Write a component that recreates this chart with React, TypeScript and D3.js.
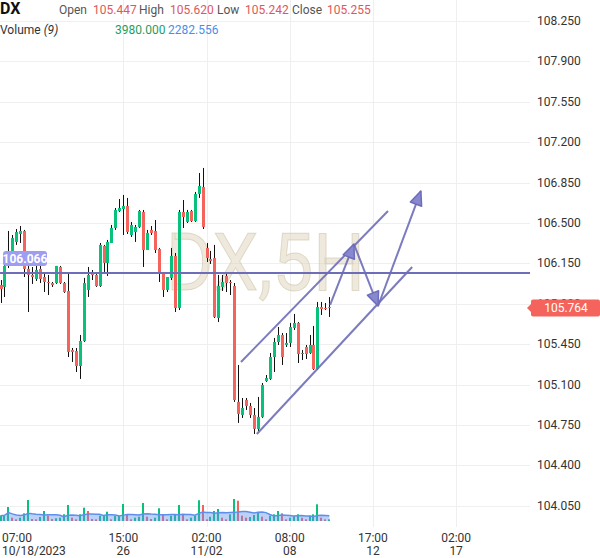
import React from 'react';
import * as d3 from 'd3';

const opens = [105.963,105.946,106.128,106.258,106.336,106.405,106.431,106.102,106.050,106.015,106.102,106.032,105.989,105.980,105.980,106.119,105.980,105.911,105.400,105.391,105.261,105.478,105.920,106.058,106.050,105.954,106.301,106.154,106.327,106.457,106.604,106.621,106.647,106.396,106.422,106.466,106.595,106.266,106.440,106.431,106.275,106.067,105.920,106.024,106.214,105.764,106.595,106.509,106.604,106.517,106.751,106.812,106.284,106.188,106.197,105.677,105.946,106.041,105.989,105.954,104.950,104.837,104.967,104.915,104.837,104.716,104.820,105.131,105.149,105.339,105.469,105.530,105.443,105.461,105.591,105.634,105.365,105.426,105.374,105.443,105.235,105.772,105.764,105.772];
const highs = [106.006,106.180,106.431,106.396,106.448,106.474,106.440,106.128,106.119,106.128,106.128,106.067,106.050,105.989,106.128,106.128,105.989,106.058,105.417,105.417,105.530,106.024,106.119,106.093,106.067,106.327,106.310,106.353,106.483,106.630,106.708,106.743,106.717,106.509,106.483,106.613,106.613,106.440,106.474,106.526,106.284,106.076,106.032,106.284,106.240,106.613,106.699,106.613,106.613,106.769,106.933,106.977,106.327,106.258,106.310,106.050,106.050,106.067,106.006,105.980,105.270,104.984,104.984,104.941,104.897,104.993,105.114,105.183,105.374,105.504,105.599,105.547,105.547,105.634,105.712,105.642,105.400,105.443,105.530,105.608,105.816,105.816,105.807,105.859];
const lows = [105.807,105.859,106.110,106.223,106.310,106.327,106.032,105.729,105.972,105.998,105.980,105.902,105.876,105.946,105.972,105.972,105.894,105.339,105.296,105.209,105.149,105.469,105.859,106.006,105.946,105.946,106.076,106.041,106.327,106.440,106.595,106.396,106.405,106.379,106.336,106.457,106.119,106.266,106.396,106.240,105.989,105.859,105.902,106.006,105.729,105.746,106.457,106.500,106.509,106.509,106.717,106.448,106.162,106.145,105.677,105.642,105.911,105.902,105.876,104.950,104.768,104.811,104.880,104.811,104.672,104.698,104.811,105.123,105.140,105.209,105.443,105.270,105.426,105.426,105.573,105.287,105.313,105.322,105.365,105.227,105.227,105.703,105.746,105.686];
const closes = [105.928,106.128,106.197,106.370,106.422,106.431,106.102,106.050,106.032,106.093,106.015,105.989,105.980,105.963,106.128,105.980,105.902,105.383,105.383,105.261,105.478,105.980,106.050,106.050,105.954,106.310,106.154,106.336,106.457,106.613,106.630,106.647,106.422,106.483,106.466,106.604,106.266,106.414,106.414,106.266,106.067,105.920,106.032,106.214,105.764,106.595,106.552,106.595,106.517,106.751,106.821,106.466,106.197,106.171,105.686,105.954,105.989,105.980,105.980,104.967,104.846,104.897,104.915,104.837,104.716,104.820,105.097,105.157,105.339,105.469,105.530,105.339,105.461,105.599,105.634,105.365,105.374,105.365,105.443,105.235,105.772,105.755,105.755,105.764];
const volumes = [960,1085,2530,600,300,600,1390,3800,360,300,720,1810,960,360,490,600,1210,2900,600,300,1210,2410,1810,360,300,960,1085,1680,300,900,900,3080,1210,300,600,780,3260,780,360,600,2300,1085,300,960,1085,2900,1210,300,600,960,3750,2900,300,780,1810,2170,600,300,1210,3980,3670,960,600,720,1085,1570,780,300,960,1210,1810,1390,300,600,850,1210,600,300,960,1210,3020,600,300,300];

const priceTicks = [108.25,107.9,107.55,107.2,106.85,106.5,106.15,105.8,105.45,105.1,104.75,104.4,104.05];
const timeTickIndex = [0,31,52,73,94,115];
const timeTickTime = ['07:00','15:00','02:00','08:00','17:00','02:00'];
const timeTickDate = ['10/18/2023','26','11/02','08','12','17'];

const headerLabels = ['Open','High','Low','Close'];
const headerValues = ['105.447','105.620','105.242','105.255'];
const volumeValue = '3980.000';
const volumeMA = '2282.556';

const hLinePrice = 106.066;
const lastPrice = 105.764;
const upperChannel = [[60.7,105.296],[97.8,106.604]];
const lowerChannel = [[64.7,104.672],[103.9,106.119]];
const arrowPath = [[83.2,105.79],[89.2,106.318],[95.3,105.781],[106.1,106.777]];

const W = 600, H = 558;
const PLOT_RIGHT = 530;
const UP = '#08c27b', DOWN = '#f4645c', LINE = '#6d6db9';
const FONT = 'Roboto, Arial, sans-serif';

export default function App() {
  const xs = d3.scaleLinear().domain([0, 115]).range([0.5, 0.5 + 3.962 * 115]);
  const ys = d3.scaleLinear().domain([104.05, 108.25]).range([505.8, 21]);
  const vs = d3.scaleLinear().domain([0, 3980]).range([521, 499]);

  const ma = volumes.map((_, i) => d3.mean(volumes.slice(Math.max(0, i - 8), i + 1)) as number);
  const area = d3.area<number>().x((_, i) => xs(i)).y0(521).y1(d => vs(d));
  const maLine = d3.line<number>().x((_, i) => xs(i)).y(d => vs(d));

  const fmt = d3.format('.3f');

  const arrowHead = (p1: number[], p2: number[]) => {
    const x1 = xs(p1[0]), y1 = ys(p1[1]), x2 = xs(p2[0]), y2 = ys(p2[1]);
    const dx = x2 - x1, dy = y2 - y1, len = Math.hypot(dx, dy);
    const ux = dx / len, uy = dy / len, nx = -uy, ny = ux;
    const L = 14, Wd = 6;
    const bx = x2 - ux * L, by = y2 - uy * L;
    return `${x2},${y2} ${bx + nx * Wd},${by + ny * Wd} ${bx - nx * Wd},${by - ny * Wd}`;
  };

  return (
    <svg width={W} height={H} style={{ position: 'absolute', left: 0, top: 0, background: '#fff' }} fontFamily={FONT}>
      {/* grid */}
      {priceTicks.map((p, i) => (
        <line key={'hg' + i} x1={0} x2={PLOT_RIGHT} y1={Math.round(ys(p)) + 0.5} y2={Math.round(ys(p)) + 0.5} stroke="#efefef" />
      ))}
      {timeTickIndex.slice(1).map((t, i) => (
        <line key={'vg' + i} x1={Math.round(xs(t)) + 0.5} x2={Math.round(xs(t)) + 0.5} y1={0} y2={527} stroke="#efefef" />
      ))}

      {/* watermark */}
      <text x={166} y={290} fontSize={80} textLength={199} lengthAdjust="spacingAndGlyphs" fill="rgba(222,212,186,0.5)" stroke="rgba(200,190,160,0.5)" strokeWidth={1}>DX,5H</text>

      {/* volume bars */}
      {volumes.map((v, i) => {
        const up = i === 0 || v >= volumes[i - 1];
        const x = Math.round(xs(i));
        return <rect key={'v' + i} x={x - 1} y={vs(v)} width={2} height={521 - vs(v)} fill={up ? UP : DOWN} />;
      })}
      <path d={area(ma) || ''} fill="rgba(98,146,238,0.42)" />
      <path d={maLine(ma) || ''} fill="none" stroke="#5f8fec" strokeWidth={1.5} />

      {/* candles */}
      {opens.map((o, i) => {
        const c = closes[i];
        const x = Math.round(xs(i));
        const top = ys(Math.max(o, c)), bot = ys(Math.min(o, c));
        return (
          <g key={'c' + i}>
            <line x1={x + 0.5} x2={x + 0.5} y1={ys(highs[i])} y2={ys(lows[i])} stroke="#111" strokeWidth={1} />
            <rect x={x - 1} y={top} width={3} height={Math.max(1, bot - top)} fill={c >= o ? UP : DOWN} />
          </g>
        );
      })}

      {/* horizontal line */}
      <line x1={0} x2={PLOT_RIGHT} y1={ys(hLinePrice)} y2={ys(hLinePrice)} stroke={LINE} strokeWidth={2} />
      <rect x={3} y={ys(hLinePrice) - 22} width={44} height={15} rx={3} fill="#9d9df2" />
      <text x={25} y={ys(hLinePrice) - 10.5} fontSize={12} fontWeight="bold" fill="#fff" textAnchor="middle">{fmt(hLinePrice)}</text>

      {/* channel */}
      {[upperChannel, lowerChannel].map((ln, i) => (
        <line key={'ch' + i} x1={xs(ln[0][0])} y1={ys(ln[0][1])} x2={xs(ln[1][0])} y2={ys(ln[1][1])} stroke={LINE} strokeWidth={2} opacity={0.9} />
      ))}

      {/* arrows */}
      {arrowPath.slice(1).map((p, i) => {
        const p0 = arrowPath[i];
        return (
          <g key={'ar' + i}>
            <line x1={xs(p0[0])} y1={ys(p0[1])} x2={xs(p[0])} y2={ys(p[1])} stroke={LINE} strokeWidth={2} opacity={0.9} />
            <polygon points={arrowHead(p0, p)} fill="#8888d0" stroke={LINE} strokeWidth={1.5} strokeLinejoin="round" />
          </g>
        );
      })}

      {/* price axis */}
      {priceTicks.map((p, i) => (
        <text key={'pt' + i} x={537} y={ys(p) + 4} fontSize={12} fill="#333">{fmt(p)}</text>
      ))}
      <polygon points={`531,${ys(lastPrice) - 4} 527,${ys(lastPrice)} 531,${ys(lastPrice) + 4}`} fill={DOWN} />
      <rect x={531} y={ys(lastPrice) - 8.5} width={69} height={17} rx={2} fill={DOWN} />
      <text x={566} y={ys(lastPrice) + 4} fontSize={12} fill="#fff" textAnchor="middle">{fmt(lastPrice)}</text>

      {/* time axis */}
      {timeTickIndex.map((t, i) => {
        const x = i === 0 ? 2 : xs(t);
        const anchor = i === 0 ? 'start' : 'middle';
        return (
          <g key={'tt' + i}>
            <text x={x} y={542} fontSize={12} fill="#333" textAnchor={anchor}>{timeTickTime[i]}</text>
            <text x={x} y={555} fontSize={12} fill="#333" textAnchor={anchor}>{timeTickDate[i]}</text>
          </g>
        );
      })}

      {/* header */}
      <text x={0} y={14} fontSize={16} fontWeight="bold" fill="#111">DX</text>
      {headerLabels.map((l, i) => {
        const lx = [59, 139, 217, 292][i];
        const vx = [93, 170, 245, 327][i];
        return (
          <g key={'hd' + i}>
            <text x={lx} y={14} fontSize={12} fill="#555">{l}</text>
            <text x={vx} y={14} fontSize={12} fill="#e0575a">{headerValues[i]}</text>
          </g>
        );
      })}
      <text x={0} y={34} fontSize={12} fill="#333">Volume <tspan fontStyle="italic">(9)</tspan></text>
      <text x={115} y={34} fontSize={12} fill="#1e9e5c">{volumeValue}</text>
      <text x={168} y={34} fontSize={12} fill="#4a8ee8">{volumeMA}</text>
    </svg>
  );
}
